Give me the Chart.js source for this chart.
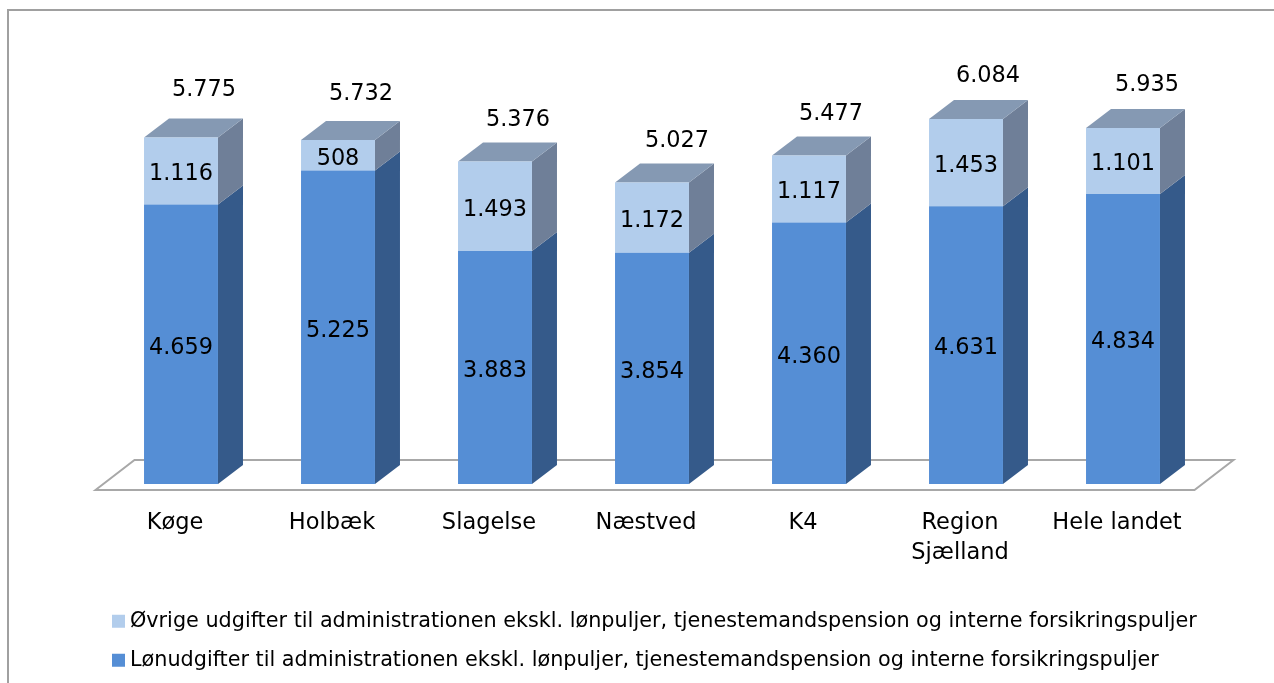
<!DOCTYPE html>
<html>
<head>
<meta charset="utf-8">
<title>Udgifter til administrationen</title>
<script src="https://cdn.jsdelivr.net/npm/chart.js@4"></script>
<style>
    html, body { margin: 0; padding: 0; background: #fff; overflow: hidden; }
    canvas { display: block; }
</style>
</head>
<body>
<canvas id="chart-admin" width="1274" height="683"></canvas>
<script>
const categories = ['Køge', 'Holbæk', 'Slagelse', 'Næstved', 'K4', ['Region', 'Sjælland'], 'Hele landet'];
const lonValues = [4659, 5225, 3883, 3854, 4360, 4631, 4834];
const ovrigeValues = [1116, 508, 1493, 1172, 1117, 1453, 1101];
const totals = [5775, 5732, 5376, 5027, 5477, 6084, 5935];

const lonLabel = 'Lønudgifter til administrationen ekskl. lønpuljer, tjenestemandspension og interne forsikringspuljer';
const ovrigeLabel = 'Øvrige udgifter til administrationen ekskl. lønpuljer, tjenestemandspension og interne forsikringspuljer';

const fontName = '"DejaVu Sans", sans-serif';
const depthX = 25;
const depthY = -19;
const frontColors = ['#558ed5', '#b2cdec'];
const sideColors = ['#355a8a', '#6f7f98'];
const topColor = '#8599b3';
// the total labels were placed by hand in the original
const totalLift = [47, 46, 41, 41, 41, 43, 43];
const totalShift = [23, 23, 23, 25, 22, 22, 24];

const formatValue = (v) => String(v).replace(/\B(?=(\d{3})+$)/g, '.');

const fillShape = (ctx, color, pts) => {
    ctx.fillStyle = color;
    ctx.beginPath();
    pts.forEach((p, i) => i ? ctx.lineTo(p[0], p[1]) : ctx.moveTo(p[0], p[1]));
    ctx.closePath();
    ctx.fill();
};

// grey frame, only top and left are inside the crop
const framePlugin = {
    id: 'frame',
    beforeDraw(chart) {
        const ctx = chart.ctx;
        ctx.save();
        ctx.strokeStyle = '#a0a0a0';
        ctx.lineWidth = 2;
        ctx.beginPath();
        ctx.moveTo(8, 683);
        ctx.lineTo(8, 10);
        ctx.lineTo(1274, 10);
        ctx.stroke();
        ctx.restore();
    }
};

// floor plate and the side/top faces of the bars
const boxPlugin = {
    id: 'box3d',
    beforeDatasetsDraw(chart) {
        const ctx = chart.ctx;
        const area = chart.chartArea;
        const base = area.bottom;
        ctx.save();
        ctx.strokeStyle = '#a8a8a8';
        ctx.lineWidth = 2;
        ctx.beginPath();
        ctx.moveTo(area.left - 7, base + 6);
        ctx.lineTo(area.left + 32, base - 24);
        ctx.lineTo(area.right + 32, base - 24);
        ctx.lineTo(area.right - 7, base + 6);
        ctx.closePath();
        ctx.stroke();

        chart.data.datasets.forEach((ds, d) => {
            chart.getDatasetMeta(d).data.forEach((bar) => {
                const p = bar.getProps(['x', 'y', 'base', 'width'], true);
                const right = p.x + p.width / 2;
                const left = p.x - p.width / 2;
                fillShape(ctx, sideColors[d], [
                    [right, p.y], [right + depthX, p.y + depthY],
                    [right + depthX, p.base + depthY], [right, p.base]
                ]);
                if (d === chart.data.datasets.length - 1) {
                    fillShape(ctx, topColor, [
                        [left, p.y], [left + depthX, p.y + depthY],
                        [right + depthX, p.y + depthY], [right, p.y]
                    ]);
                }
            });
        });
        ctx.restore();
    },
    afterDatasetsDraw(chart) {
        const ctx = chart.ctx;
        const y = chart.scales.y;
        ctx.save();
        ctx.font = '22.4px ' + fontName;
        ctx.fillStyle = '#000';
        ctx.textAlign = 'center';
        ctx.textBaseline = 'middle';
        chart.data.datasets.forEach((ds, d) => {
            chart.getDatasetMeta(d).data.forEach((bar, i) => {
                const p = bar.getProps(['x', 'y', 'base'], true);
                ctx.fillText(formatValue(ds.data[i]), p.x, (p.y + p.base) / 2 + 3.5);
            });
        });
        chart.getDatasetMeta(1).data.forEach((bar, i) => {
            ctx.fillText(formatValue(totals[i]), bar.x + totalShift[i], y.getPixelForValue(totals[i]) - totalLift[i]);
        });
        ctx.restore();
    }
};

// thick border around a thin box: keeps the 13px swatch but pulls the text closer to it
const legendItems = (chart) => {
    const items = Chart.defaults.plugins.legend.labels.generateLabels(chart);
    items.forEach((item) => {
        item.lineWidth = 10.8;
        item.strokeStyle = item.fillStyle;
    });
    return items;
};

(() => {
    let ctxAdmin = document.getElementById('chart-admin').getContext('2d');

    new Chart(ctxAdmin, {
        type: 'bar',
        data: {
            labels: categories,
            datasets: [
                { label: lonLabel, data: lonValues, backgroundColor: frontColors[0] },
                { label: ovrigeLabel, data: ovrigeValues, backgroundColor: frontColors[1] }
            ]
        },
        options: {
            responsive: false,
            animation: false,
            categoryPercentage: 1,
            barPercentage: 0.471,
            layout: { padding: { top: 64, left: 99.15, right: 72.5, bottom: 2.5 } },
            scales: {
                x: {
                    stacked: true,
                    afterFit(scale) { scale.height = 108.5; },
                    grid: { display: false, drawTicks: false },
                    border: { display: false },
                    ticks: {
                        padding: 24,
                        labelOffset: -6,
                        autoSkip: false,
                        maxRotation: 0,
                        color: '#000',
                        font: { family: fontName, size: 22.5, lineHeight: 30 / 22.5 }
                    }
                },
                y: {
                    stacked: true,
                    min: 0,
                    max: 7000,
                    afterFit(scale) { scale.width = 3.35; },
                    grid: { display: false },
                    border: { display: false },
                    ticks: { display: false }
                }
            },
            plugins: {
                tooltip: { enabled: false },
                legend: {
                    position: 'bottom',
                    align: 'start',
                    reverse: true,
                    onClick: null,
                    labels: {
                        boxWidth: 2.2,
                        boxHeight: 2.2,
                        padding: 18.25,
                        color: '#000',
                        font: { family: fontName, size: 20.75 },
                        generateLabels: legendItems
                    }
                }
            }
        },
        plugins: [framePlugin, boxPlugin]
    });
})();
</script>
</body>
</html>
